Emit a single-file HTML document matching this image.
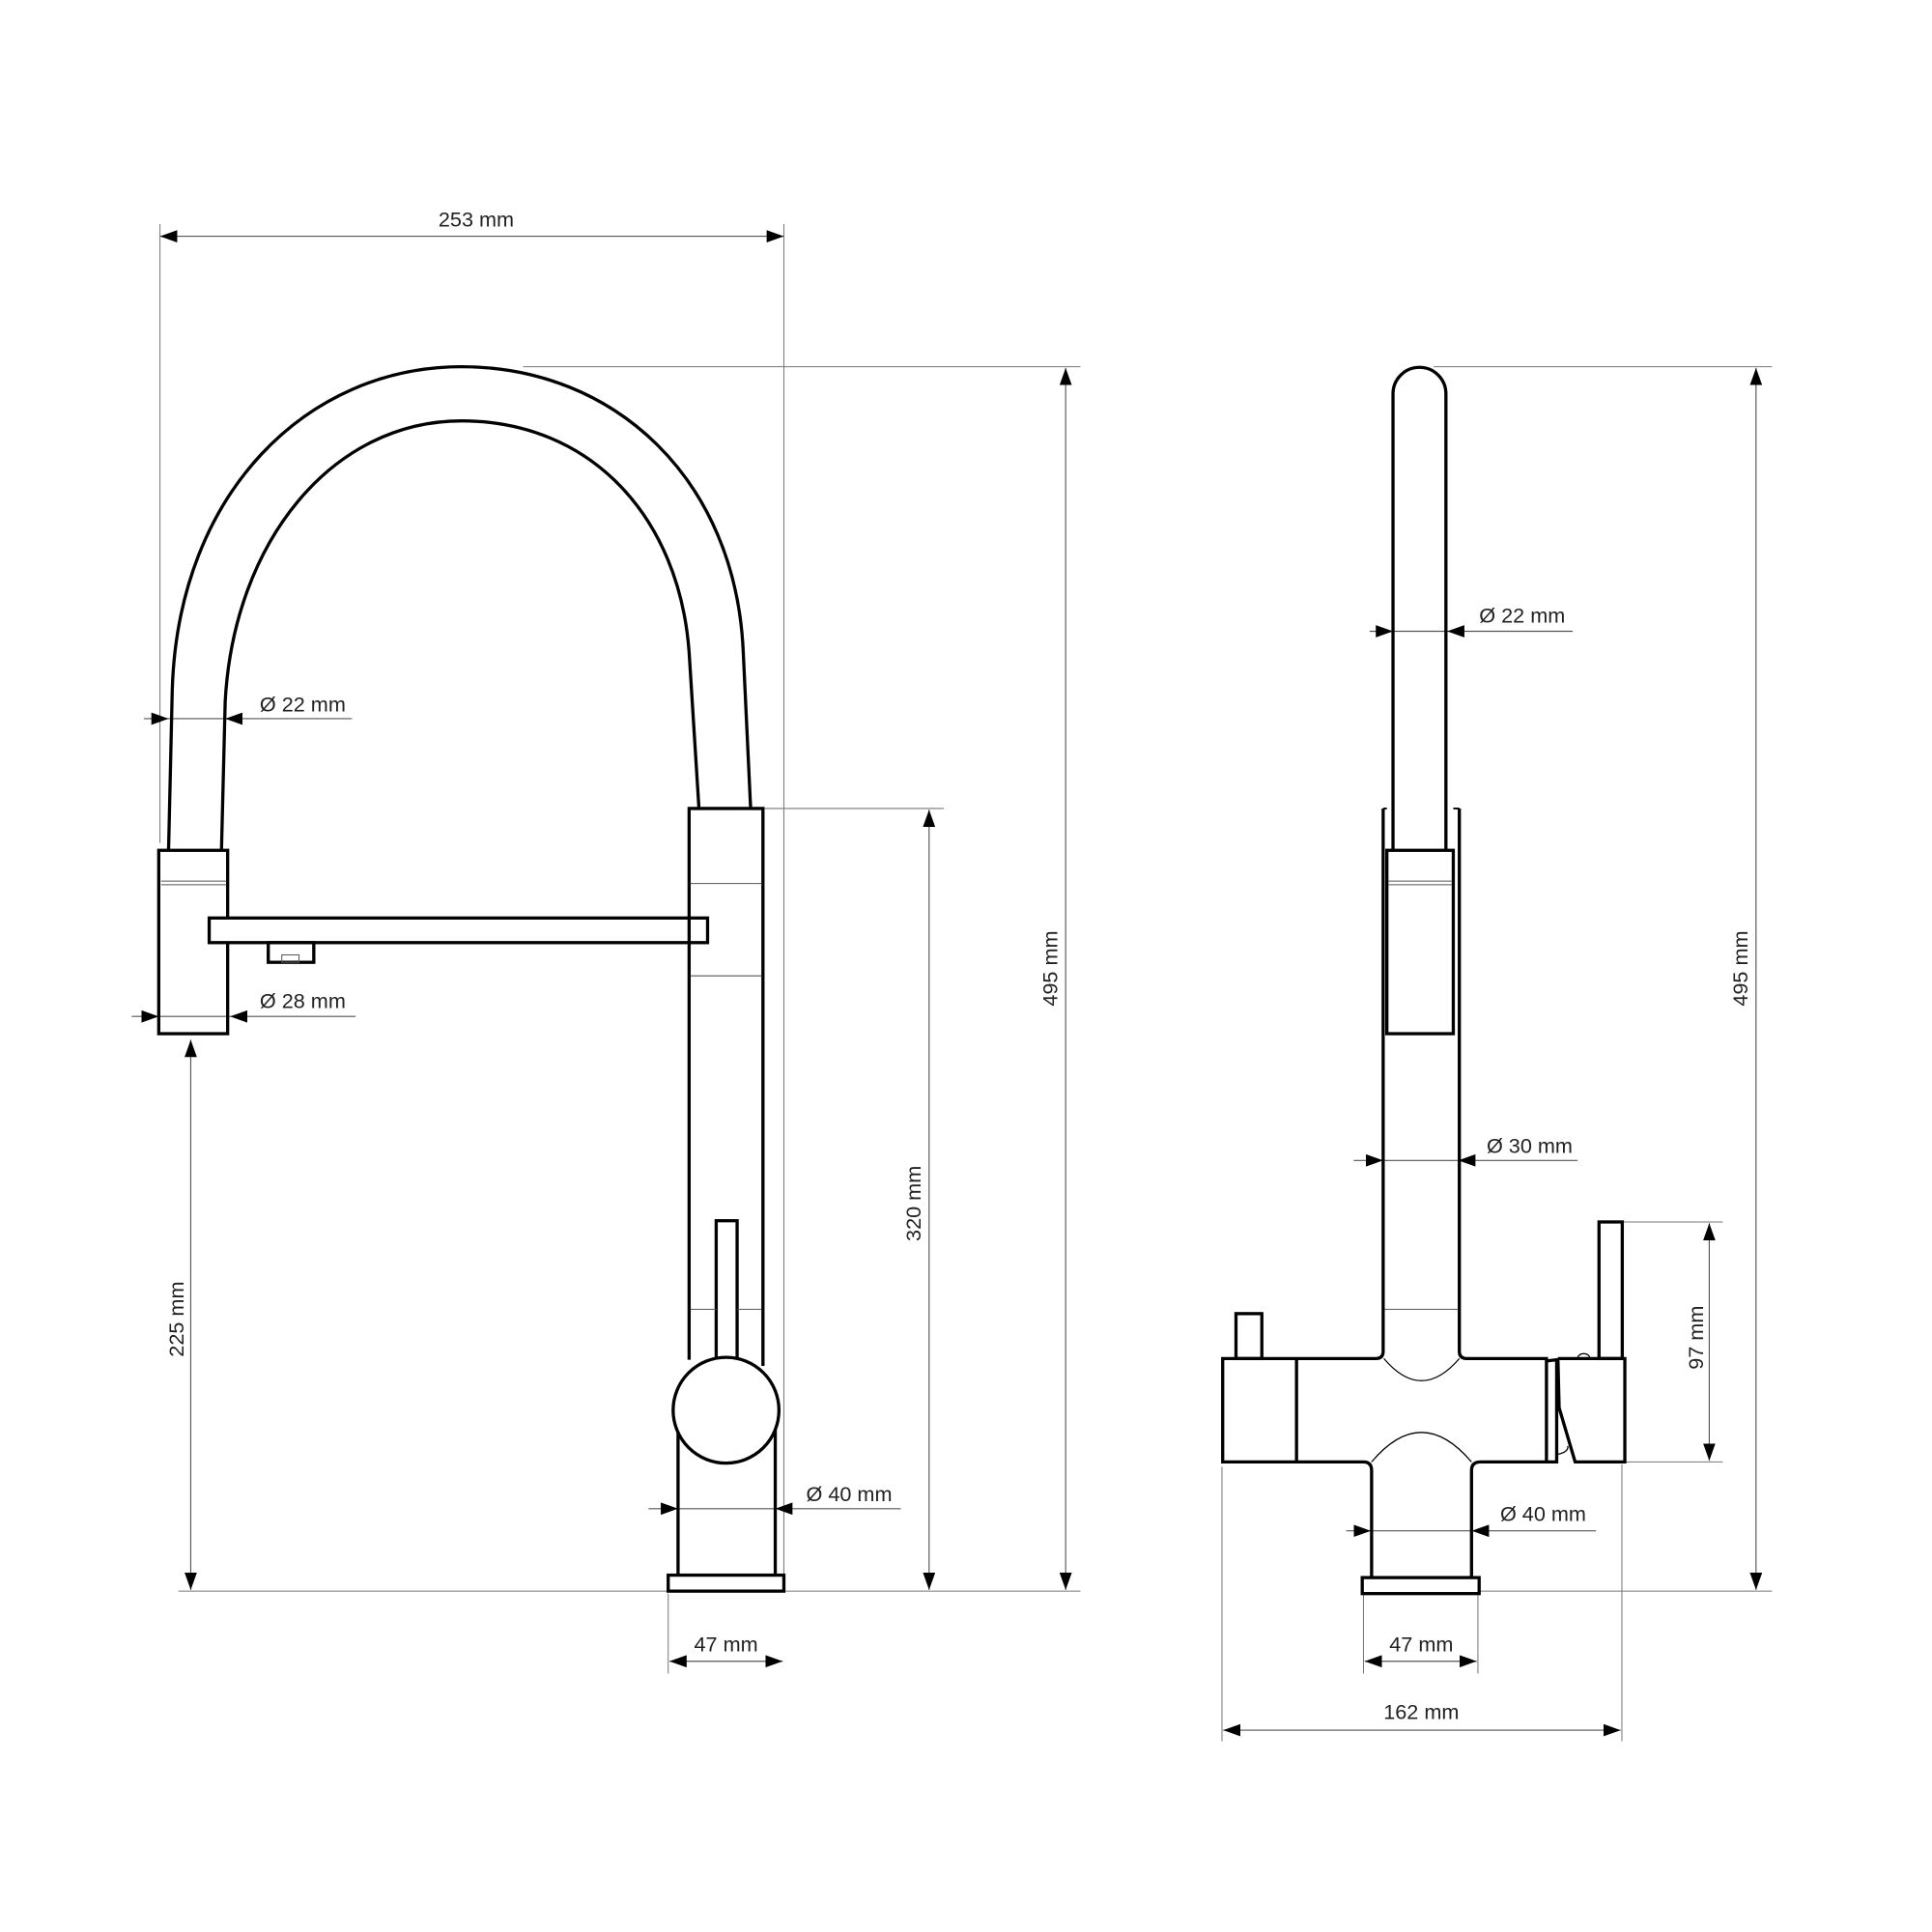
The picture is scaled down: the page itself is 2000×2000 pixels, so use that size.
<!DOCTYPE html>
<html><head><meta charset="utf-8"><style>
html,body{margin:0;padding:0;background:#fff;}
svg{display:block;}
text{font-family:"Liberation Sans",sans-serif;font-size:17px;fill:#222;}
</style></head><body>
<svg width="2000" height="2000" viewBox="0 0 1570 1570" xmlns="http://www.w3.org/2000/svg">
<defs>
<marker id="a" markerUnits="userSpaceOnUse" markerWidth="15" markerHeight="10" refX="14" refY="5" orient="auto-start-reverse"><path d="M0,0 L14,5 L0,10 z" fill="#000"/></marker>
</defs>
<g stroke="#777" stroke-width="0.8" fill="none">
<line x1="130" y1="182" x2="130" y2="685"/>
<line x1="637" y1="182" x2="637" y2="1293"/>
<line x1="425" y1="298" x2="878" y2="298"/>
<line x1="620" y1="657" x2="767" y2="657"/>
<line x1="145" y1="1293" x2="878" y2="1293"/>
<line x1="543" y1="1295" x2="543" y2="1360"/>
<line x1="1165" y1="298" x2="1440" y2="298"/>
<line x1="1202" y1="1293" x2="1440" y2="1293"/>
<line x1="1318" y1="993" x2="1400" y2="993"/>
<line x1="1320" y1="1188" x2="1400" y2="1188"/>
<line x1="1108" y1="1296" x2="1108" y2="1360"/>
<line x1="1201" y1="1296" x2="1201" y2="1360"/>
<line x1="993" y1="1192" x2="993" y2="1415"/>
<line x1="1318" y1="1190" x2="1318" y2="1415"/>
</g>
<g stroke="#555" stroke-width="0.9" fill="none">
<line x1="130" y1="192" x2="637" y2="192" marker-start="url(#a)" marker-end="url(#a)"/>
<line x1="155" y1="845" x2="155" y2="1292" marker-start="url(#a)" marker-end="url(#a)"/>
<line x1="755" y1="658" x2="755" y2="1292" marker-start="url(#a)" marker-end="url(#a)"/>
<line x1="866" y1="299" x2="866" y2="1292" marker-start="url(#a)" marker-end="url(#a)"/>
<line x1="544" y1="1350" x2="636" y2="1350" marker-start="url(#a)" marker-end="url(#a)"/>
<line x1="117" y1="584" x2="137" y2="584" marker-end="url(#a)"/>
<line x1="137" y1="584" x2="183" y2="584"/>
<line x1="286" y1="584" x2="183" y2="584" marker-end="url(#a)"/>
<line x1="107" y1="826" x2="129" y2="826" marker-end="url(#a)"/>
<line x1="129" y1="826" x2="187" y2="826"/>
<line x1="289" y1="826" x2="187" y2="826" marker-end="url(#a)"/>
<line x1="527" y1="1226" x2="551" y2="1226" marker-end="url(#a)"/>
<line x1="551" y1="1226" x2="630" y2="1226"/>
<line x1="732" y1="1226" x2="630" y2="1226" marker-end="url(#a)"/>
<line x1="1427" y1="299" x2="1427" y2="1292" marker-start="url(#a)" marker-end="url(#a)"/>
<line x1="1389" y1="994" x2="1389" y2="1187" marker-start="url(#a)" marker-end="url(#a)"/>
<line x1="1109" y1="1350" x2="1200" y2="1350" marker-start="url(#a)" marker-end="url(#a)"/>
<line x1="994" y1="1406" x2="1317" y2="1406" marker-start="url(#a)" marker-end="url(#a)"/>
<line x1="1113" y1="513" x2="1132" y2="513" marker-end="url(#a)"/>
<line x1="1132" y1="513" x2="1176" y2="513"/>
<line x1="1278" y1="513" x2="1176" y2="513" marker-end="url(#a)"/>
<line x1="1100" y1="943" x2="1124" y2="943" marker-end="url(#a)"/>
<line x1="1124" y1="943" x2="1185" y2="943"/>
<line x1="1282" y1="943" x2="1185" y2="943" marker-end="url(#a)"/>
<line x1="1094" y1="1244" x2="1114" y2="1244" marker-end="url(#a)"/>
<line x1="1114" y1="1244" x2="1196" y2="1244"/>
<line x1="1297" y1="1244" x2="1196" y2="1244" marker-end="url(#a)"/>
</g>
<g stroke="#000" stroke-width="2.6" fill="none" stroke-linejoin="miter">
<path d="M137,690 L140,560 C145,400 250,298 375,298 C500,298 598,390 604,530 L610,657"/>
<path d="M180,690 L183,570 C190,440 270,342 375,342 C480,342 552,420 560,530 L568,657"/>
<rect x="129" y="691" width="56" height="149"/>
<rect x="170" y="746" width="405" height="20" fill="#fff"/>
<rect x="218" y="766" width="37" height="16"/>
<path d="M560,1105 L560,657 L620,657 L620,1110"/>
<rect x="582" y="992" width="17" height="120"/>
<path d="M551,1160 L551,1280 M630,1160 L630,1280"/>
<circle cx="590" cy="1146" r="43" fill="#fff"/>
<rect x="543" y="1280" width="94" height="13" fill="#fff"/>
</g>
<g stroke="#555" stroke-width="0.8" fill="none">
<line x1="131" y1="716" x2="184" y2="716"/><line x1="131" y1="719" x2="184" y2="719"/>
<rect x="229" y="776" width="14" height="6"/>
<line x1="561" y1="718" x2="619" y2="718"/>
<line x1="561" y1="793" x2="619" y2="793"/>
<line x1="561" y1="1064" x2="582" y2="1064"/><line x1="599" y1="1064" x2="619" y2="1064"/>
</g>
<g stroke="#000" stroke-width="2.6" fill="none">
<path d="M1132,691 L1132,320 A21.5,21.5 0 0 1 1175,320 L1175,691"/>
<rect x="1127" y="691" width="54" height="149"/>
<path d="M1124,657 L1124,1098 Q1124,1104 1118,1104 L993.6,1104 L993.6,1188 L1108,1188 Q1114.6,1188 1114.6,1195 L1114.6,1282"/>
<path d="M1185.9,657 L1185.9,1098 Q1185.9,1104 1192,1104 L1256.7,1104 L1256.7,1188 L1203,1188 Q1195.8,1188 1195.8,1195 L1195.8,1282"/>
<line x1="1053.6" y1="1104" x2="1053.6" y2="1188"/>
<rect x="1004.4" y="1067.5" width="21" height="36.5"/>
<path d="M1256.7,1106 L1265,1105 L1265,1188 L1256.7,1188"/>
<path d="M1266,1104 L1320.4,1104 L1320.4,1188 L1280,1188 L1267,1144 L1266,1104"/>
<rect x="1299.4" y="993" width="18.9" height="111"/>
<rect x="1107" y="1282" width="95" height="13" fill="#fff"/>
</g>
<g stroke="#000" stroke-width="1.5" fill="none">
<path d="M1124,657 L1127,657 M1181,657 L1185.9,657"/>
</g>
<g stroke="#000" stroke-width="1" fill="none">
<path d="M1124.6,1104 Q1155,1140 1185.9,1104"/>
<path d="M1114.6,1188 Q1155,1140 1195.8,1188"/>
<path d="M1265,1182 Q1275,1180 1274,1175"/>
<path d="M1282,1104 A5,4 0 0 1 1292,1104"/>
</g>
<g stroke="#555" stroke-width="0.8">
<line x1="1128" y1="716" x2="1180" y2="716"/><line x1="1128" y1="719" x2="1180" y2="719"/>
<line x1="1125" y1="1064" x2="1185" y2="1064"/>
</g>
<text x="387" y="184" text-anchor="middle">253 mm</text>
<text x="246" y="578" text-anchor="middle">Ø 22 mm</text>
<text x="246" y="819" text-anchor="middle">Ø 28 mm</text>
<text x="690" y="1220" text-anchor="middle">Ø 40 mm</text>
<text x="590" y="1342" text-anchor="middle">47 mm</text>
<text transform="translate(149,1072) rotate(-90)" text-anchor="middle">225 mm</text>
<text transform="translate(748,978) rotate(-90)" text-anchor="middle">320 mm</text>
<text transform="translate(859,787) rotate(-90)" text-anchor="middle">495 mm</text>
<text x="1237" y="506" text-anchor="middle">Ø 22 mm</text>
<text x="1243" y="937" text-anchor="middle">Ø 30 mm</text>
<text x="1254" y="1236" text-anchor="middle">Ø 40 mm</text>
<text x="1155" y="1342" text-anchor="middle">47 mm</text>
<text x="1155" y="1397" text-anchor="middle">162 mm</text>
<text transform="translate(1384,1087) rotate(-90)" text-anchor="middle">97 mm</text>
<text transform="translate(1420,787) rotate(-90)" text-anchor="middle">495 mm</text>
</svg>
</body></html>
